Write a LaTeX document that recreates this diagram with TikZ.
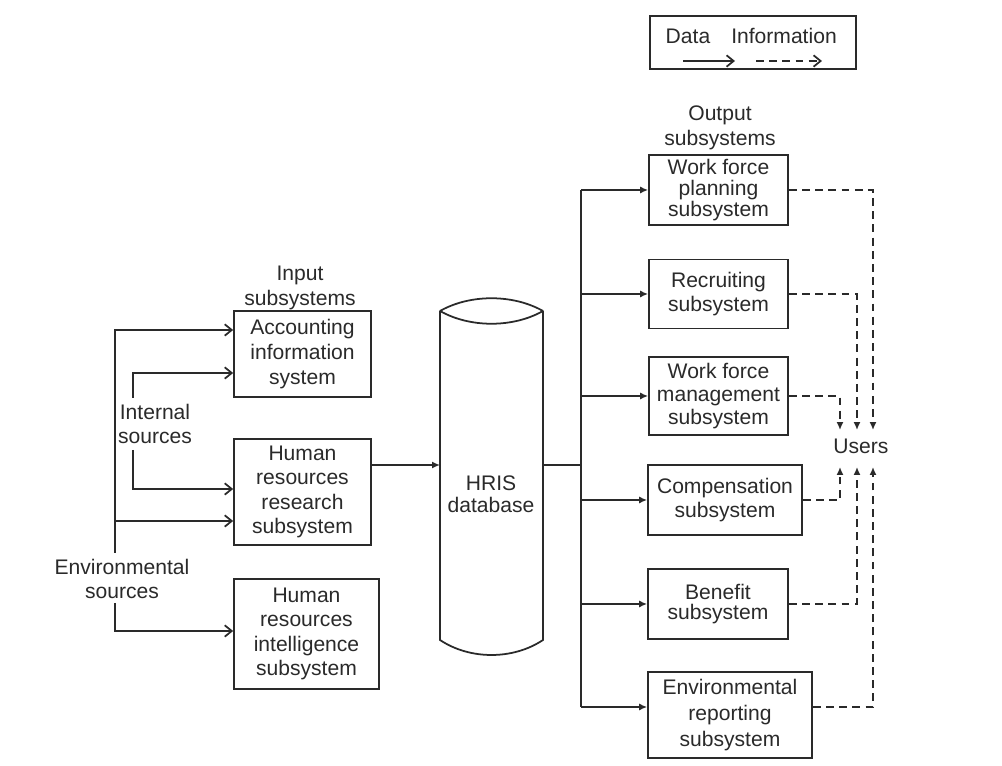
\documentclass[tikz,border=0pt]{standalone}
\usepackage{fontspec}
\setmainfont{Liberation Sans}
\usetikzlibrary{arrows.meta}
\definecolor{inkc}{HTML}{2A2A2A}
\begin{document}
\begin{tikzpicture}[x=0.02cm,y=-0.02cm,
  txt/.style={align=center, text=inkc, inner sep=0pt, font=\fontsize{12}{14}\selectfont},
  box/.style={txt, draw=inkc, line width=1pt, rectangle},
  feed/.style={draw=inkc, line width=1pt, -{Straight Barb[length=4pt,width=6.5pt]}},
  pipe/.style={draw=inkc, line width=1pt, -{Latex[length=4.5pt,width=4pt]}},
  info/.style={pipe, dash pattern=on 4.5pt off 3pt},
]
\useasboundingbox (0,0) rectangle (1002,766);

% legend
\node[box, minimum width=4.12cm, minimum height=1.06cm] (legend) at (753,42.5) {};
\node[txt] (ldata) at (688,36) {Data};
\node[txt] (linfo) at (784,36) {Information};
\coordinate (la1) at (683,61); \coordinate (la2) at (735,61);
\coordinate (lb1) at (756,61); \coordinate (lb2) at (822,61);
\draw[feed] (la1) -- (la2);
\draw[feed, dash pattern=on 4.5pt off 3pt] (lb1) -- (lb2);

% input side
\node[txt] (inlbl) at (300,288) {Input\\subsystems};
\node[box, minimum width=2.74cm, minimum height=1.72cm] (acc) at (302.5,354) {Accounting\\information\\system};
\node[box, minimum width=2.74cm, minimum height=2.12cm] (hrr) at (302.5,492) {Human\\resources\\research\\subsystem};
\node[box, minimum width=2.90cm, minimum height=2.20cm] (hri) at (306.5,634) {Human\\resources\\intelligence\\subsystem};

\node[txt] (ints) at (155,424) {Internal\\sources};
\node[txt] (envs) at (122,579) {Environmental\\sources};

\coordinate (envtop) at (115,553);
\coordinate (envbot) at (115,603);
\coordinate (inttop) at (133,398);
\coordinate (intbot) at (133,450);

\draw[feed] (envtop) |- (acc.west |- 0,330);
\draw[feed] (envtop |- 0,521) -- (hrr.west |- 0,521);
\draw[feed] (envbot) |- (hri.west |- 0,631);
\draw[feed] (inttop) |- (acc.west |- 0,373);
\draw[feed] (intbot) |- (hrr.west |- 0,489);

% HRIS database cylinder
\node[txt, font=\fontsize{12}{12.5}\selectfont] (db) at (491,494) {HRIS\\database};
\draw[inkc, line width=1pt]
  (440,311) .. controls (470,294) and (513,294) .. (543,311)
  (440,311) .. controls (470,328) and (513,328) .. (543,311)
  (440,311) -- (440,640) .. controls (470,660) and (513,660) .. (543,640) -- (543,311);
\coordinate (dbin) at (440,465);
\coordinate (dbout) at (543,465);
\draw[pipe] (hrr.east |- dbin) -- (dbin);

% output bus
\coordinate (bustop) at (581,190);
\coordinate (busbot) at (581,707);
\draw[inkc, line width=1pt] (dbout) -- (dbout -| bustop);
\draw[inkc, line width=1pt] (bustop) -- (busbot);

\node[txt] (outlbl) at (720,128) {Output\\subsystems};
\node[box, minimum width=2.78cm, minimum height=1.40cm, font=\fontsize{12}{12}\selectfont] (wfp) at (718.5,190) {Work force\\planning\\subsystem};
\node[box, minimum width=2.78cm, minimum height=1.38cm] (rec) at (718.5,294) {Recruiting\\subsystem};
\node[box, minimum width=2.78cm, minimum height=1.56cm, font=\fontsize{12}{13}\selectfont] (wfm) at (718.5,396) {Work force\\management\\subsystem};
\node[box, minimum width=3.08cm, minimum height=1.40cm] (comp) at (725,500) {Compensation\\subsystem};
\node[box, minimum width=2.80cm, minimum height=1.40cm, font=\fontsize{12}{11.5}\selectfont] (ben) at (718,604) {Benefit\\subsystem};
\node[box, minimum width=3.28cm, minimum height=1.72cm, font=\fontsize{12}{15}\selectfont] (env) at (730,715) {Environmental\\reporting\\subsystem};

\draw[pipe] (bustop) -- (wfp.west);
\draw[pipe] (bustop |- rec.west) -- (rec.west);
\draw[pipe] (bustop |- wfm.west) -- (wfm.west);
\draw[pipe] (bustop |- comp.west) -- (comp.west);
\draw[pipe] (bustop |- ben.west) -- (ben.west);
\draw[pipe] (busbot) -- (env.west |- busbot);

% users
\node[txt] (users) at (861,446) {Users};
\coordinate (ua) at (840,430); \coordinate (ub) at (857,430); \coordinate (uc) at (873,430);
\coordinate (da) at (840,467); \coordinate (db2) at (857,467); \coordinate (dc) at (873,467);

\draw[info] (wfp.east) -| (uc);
\draw[info] (rec.east) -| (ub);
\draw[info] (wfm.east) -| (ua);
\draw[info] (comp.east) -| (da);
\draw[info] (ben.east) -| (db2);
\draw[info] (env.east |- busbot) -| (dc);
\end{tikzpicture}
\end{document}
